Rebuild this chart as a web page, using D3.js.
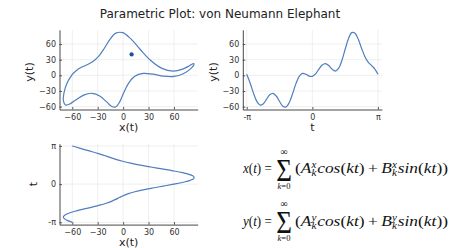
<!DOCTYPE html>
<html><head><meta charset="utf-8">
<script src="https://cdn.jsdelivr.net/npm/d3@7"></script>
<style>body{margin:0;background:#fff}svg{display:block}</style>
</head><body><svg id="c" width="458" height="248"></svg>
<script>
// parameter samples t (radians), and the curve values
const tValues = [-3.1416,-2.9845,-2.8274,-2.6704,-2.5133,-2.3562,-2.1991,-2.0420,-1.8850,-1.7279,-1.5708,-1.4137,-1.2566,-1.0996,-0.9425,-0.7854,-0.6283,-0.4712,-0.3142,-0.1571,0,0.1571,0.3142,0.4712,0.6283,0.7854,0.9425,1.0996,1.2566,1.4137,1.5708,1.7279,1.8850,2.0420,2.1991,2.3562,2.5133,2.6704,2.8274,2.9845,3.1416];
const xValues = [-60,-66.02,-69.73,-70.49,-68.07,-62.71,-55.02,-45.93,-36.49,-27.63,-20,-13.81,-8.82,-4.40,0.30,6.15,13.79,23.49,35.01,47.56,60,70.96,79.13,83.43,83.29,78.71,70.24,58.88,45.90,32.58,20,8.87,-0.59,-8.55,-15.52,-22.15,-29.01,-36.43,-44.41,-52.50,-60];
const yValues = [2,-14.17,-33.08,-49.04,-56.80,-54.77,-46.16,-37.36,-34.43,-39.60,-50,-59.17,-60.69,-51.74,-34.74,-15.94,-1.98,3.64,2.18,-1.47,-2,3.05,11.92,19.92,22.56,18.77,11.92,8.24,13.27,28.47,50,70.30,81.85,80.86,68.98,51.95,36.22,25.48,18.98,12.59,2];
const eyePoint = [10, 40];
const valueTicks = [-60, -30, 0, 30, 60];
const valueTickLabels = ["\u221260", "\u221230", "0", "30", "60"];
const tTicks = [-Math.PI, 0, Math.PI];
const tTickLabels = ["-\u03c0", "0", "\u03c0"];
const titleText = "Parametric Plot: von Neumann Elephant";

const svg = d3.select("#c");
const sans = "'DejaVu Sans', sans-serif";
const serif = "'Liberation Serif','DejaVu Serif',serif";
const lineColor = "#4f7fbd";
const idx = d3.range(tValues.length);

const xS = d3.scaleLinear().domain([-75.1, 88.0]).range([59.5, 197.7]);
const yS = d3.scaleLinear().domain([-65.5, 87.3]).range([109.5, 29.8]);
const tS2 = d3.scaleLinear().domain([-3.33, 3.33]).range([242.8, 381.9]);
const tS3 = d3.scaleLinear().domain([-3.33, 3.33]).range([224.6, 143.7]);

svg.append("text").attr("x", 220).attr("y", 17.5).attr("text-anchor", "middle")
  .attr("font-family", sans).attr("font-size", 12).attr("fill", "#222").text(titleText);

function panel(hs, vs, hTicks, hLabels, vTicks, vLabels, hTitle, vTitle, hTitleY, vTitleX, vTitleY) {
  const g = svg.append("g");
  const [x0, x1] = hs.range();
  const [y0, y1] = vs.range(); // y0 bottom, y1 top
  g.selectAll(".gv").data(hTicks).join("line")
    .attr("x1", d => hs(d)).attr("x2", d => hs(d)).attr("y1", y0).attr("y2", y1)
    .attr("stroke", "#e4e4e4").attr("stroke-width", 0.6);
  g.selectAll(".gh").data(vTicks).join("line")
    .attr("y1", d => vs(d)).attr("y2", d => vs(d)).attr("x1", x0).attr("x2", x1)
    .attr("stroke", "#e4e4e4").attr("stroke-width", 0.6);
  const ax = g.append("g").attr("transform", `translate(0,${y0})`)
    .call(d3.axisBottom(hs).tickValues(hTicks).tickFormat((d, i) => hLabels[i])
      .tickSizeInner(-2.5).tickSizeOuter(0).tickPadding(4.8));
  const ay = g.append("g").attr("transform", `translate(${x0},0)`)
    .call(d3.axisLeft(vs).tickValues(vTicks).tickFormat((d, i) => vLabels[i])
      .tickSizeInner(-2.5).tickSizeOuter(0).tickPadding(3.5));
  [ax, ay].forEach(a => {
    a.attr("font-family", sans).attr("font-size", 8);
    a.selectAll("path").attr("stroke", "#333").attr("stroke-width", 0.9);
    a.selectAll("line").attr("stroke", "#333").attr("stroke-width", 0.8);
    a.selectAll("text").attr("fill", "#333");
  });
  g.append("text").attr("x", (x0 + x1) / 2).attr("y", hTitleY).attr("text-anchor", "middle")
    .attr("font-family", sans).attr("font-size", 11).attr("fill", "#222").text(hTitle);
  g.append("text").attr("transform", `translate(${vTitleX},${vTitleY}) rotate(-90)`)
    .attr("text-anchor", "middle").attr("font-family", sans).attr("font-size", 11)
    .attr("fill", "#222").text(vTitle);
  return g;
}

const p1 = panel(xS, yS, valueTicks, valueTickLabels, valueTicks, valueTickLabels, "x(t)", "y(t)", 131, 32.5, 72);
const p2 = panel(tS2, yS, tTicks, tTickLabels, valueTicks, valueTickLabels, "t", "y(t)", 131, 216.5, 72);
const p3 = panel(xS, tS3, valueTicks, valueTickLabels, tTicks, tTickLabels, "x(t)", "t", 245.5, 36.5, 184);

const curve = d3.curveCatmullRom.alpha(0.5);
p1.append("path").attr("d", d3.line().x(i => xS(xValues[i])).y(i => yS(yValues[i])).curve(curve)(idx))
  .attr("fill", "none").attr("stroke", lineColor).attr("stroke-width", 1.2);
p1.append("circle").attr("cx", xS(eyePoint[0])).attr("cy", yS(eyePoint[1])).attr("r", 2.1)
  .attr("fill", "#1d4f9e");
p2.append("path").attr("d", d3.line().x(i => tS2(tValues[i])).y(i => yS(yValues[i])).curve(curve)(idx))
  .attr("fill", "none").attr("stroke", lineColor).attr("stroke-width", 1.2);
p3.append("path").attr("d", d3.line().x(i => xS(xValues[i])).y(i => tS3(tValues[i])).curve(curve)(idx))
  .attr("fill", "none").attr("stroke", lineColor).attr("stroke-width", 1.2);

// equations
function segment(parent, parts, x0, base, target) {
  const g = parent.append("g");
  let x = 0;
  parts.forEach(p => {
    if (p.gap) { x += p.gap; return; }
    if (p.sup !== undefined) {
      const a = g.append("text").attr("x", x).attr("y", -5).attr("font-family", serif)
        .attr("font-size", 9.5).attr("font-style", "italic").attr("fill", "#111").text(p.sup);
      const b = g.append("text").attr("x", x).attr("y", 3).attr("font-family", serif)
        .attr("font-size", 9.5).attr("font-style", "italic").attr("fill", "#111").text(p.sub);
      x += Math.max(a.node().getComputedTextLength(), b.node().getComputedTextLength()) + 0.8;
      return;
    }
    const t = g.append("text").attr("x", x).attr("y", 0).attr("font-family", serif)
      .attr("font-size", p.size || 15).attr("font-style", p.it ? "italic" : "normal")
      .attr("fill", "#111").text(p.s);
    x += t.node().getComputedTextLength();
  });
  const sx = target / x;
  g.attr("transform", `translate(${x0},${base}) scale(${sx},1)`);
}
function equation(v, base) {
  const g = svg.append("g");
  segment(g, [{s: v, it: true}, {s: "(", it: false}, {s: "t", it: true}, {s: ")", it: false},
    {gap: 4}, {s: "=", it: false}], 243, base, 29);
  g.append("text").attr("transform", `translate(284,${base + 7.6}) scale(1,1.2)`)
    .attr("text-anchor", "middle").attr("font-family", serif).attr("font-size", 27)
    .attr("fill", "#111").text("\u03a3");
  g.append("text").attr("x", 284).attr("y", base - 18.2).attr("text-anchor", "middle")
    .attr("font-family", serif).attr("font-size", 10).attr("fill", "#111").text("\u221e");
  const k = g.append("text").attr("x", 284).attr("y", base + 15.2).attr("text-anchor", "middle")
    .attr("font-family", serif).attr("font-size", 8.5).attr("fill", "#111");
  k.append("tspan").attr("font-style", "italic").text("k");
  k.append("tspan").text("=0");
  segment(g, [{s: "(", it: false}, {s: "A", it: true}, {sup: v, sub: "k"}, {s: "cos", it: true},
    {s: "(", it: false}, {s: "kt", it: true}, {s: ")", it: false}, {gap: 3}, {s: "+", it: false}, {gap: 3},
    {s: "B", it: true}, {sup: v, sub: "k"}, {s: "sin", it: true}, {s: "(", it: false},
    {s: "kt", it: true}, {s: "))", it: false}], 295, base, 153);
}
equation("x", 173.3);
equation("y", 225.5);
</script></body></html>
